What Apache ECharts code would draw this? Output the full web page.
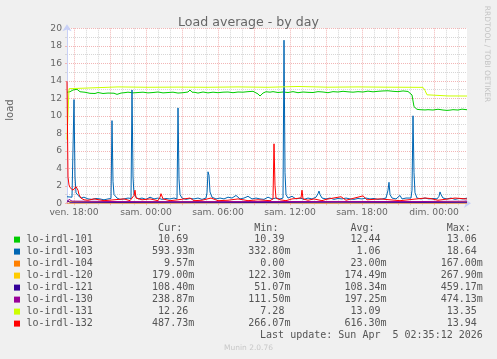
<!DOCTYPE html>
<html><head><meta charset="utf-8">
<script src="https://cdn.jsdelivr.net/npm/echarts@6/dist/echarts.min.js"></script>
<style>html,body{margin:0;padding:0;background:#f0f0f0}#c{width:497px;height:359px}</style>
</head><body><div id="c"></div>
<script>
// ---- labels / legend ----
const titleText = 'Load average - by day';
const yName = 'load';
const seriesNames = ['lo-irdl-101','lo-irdl-103','lo-irdl-104','lo-irdl-120','lo-irdl-121','lo-irdl-130','lo-irdl-131','lo-irdl-132'];
const seriesColors = ['#00cc00','#0066b3','#ff8000','#ffcc00','#330099','#990099','#ccff00','#ff0000'];
const curVals = ['10.69','593.93m','9.57m','179.00m','108.40m','238.87m','12.26','487.73m'];
const minVals = ['10.39','332.80m','0.00','122.30m','51.07m','111.50m','7.28','266.07m'];
const avgVals = ['12.44','1.06','23.00m','174.49m','108.34m','197.25m','13.09','616.30m'];
const maxVals = ['13.06','18.64','167.00m','267.90m','459.17m','474.13m','13.35','13.94'];
const lastUpdate = 'Last update: Sun Apr  5 02:35:12 2026';
const muninVersion = 'Munin 2.0.76';
const sideText = 'RRDTOOL / TOBI OETIKER';
const dayNames = ['ven.','sam.','dim.'];

// ---- axes (time in minutes since Friday 00:00) ----
const xStart = 1045, xEnd = 3045;
const xLabelTicks = [1080,1440,1800,2160,2520,2880];
const xMajorTicks = [1080,1260,1440,1620,1800,1980,2160,2340,2520,2700,2880];
const xMinorTicks = [1140,1200,1320,1380,1500,1560,1680,1740,1860,1920,2040,2100,2220,2280,2400,2460,2580,2640,2760,2820,2940,3000];
const yMin = 0, yMax = 20, yStep = 2;

// ---- series data: [minute, load] ----
const s101 = [[1045,12.69],[1060,12.75],[1075,12.95],[1095,13.03],[1110,12.75],[1135,12.69],[1160,12.57],[1170,12.62],[1185,12.55],[1200,12.66],[1210,12.62],[1225,12.55],[1235,12.5],[1250,12.6],[1260,12.65],[1280,12.58],[1295,12.45],[1305,12.62],[1315,12.6],[1335,12.65],[1350,12.7],[1360,12.72],[1375,12.62],[1385,12.7],[1400,12.66],[1410,12.6],[1425,12.7],[1435,12.65],[1450,12.62],[1460,12.7],[1475,12.66],[1485,12.6],[1500,12.72],[1510,12.68],[1525,12.62],[1535,12.7],[1550,12.66],[1560,12.62],[1575,12.7],[1585,12.65],[1600,12.6],[1610,12.72],[1625,12.64],[1635,12.66],[1650,12.72],[1660,12.95],[1670,12.7],[1685,12.68],[1700,12.6],[1710,12.65],[1725,12.72],[1735,12.7],[1750,12.62],[1760,12.66],[1775,12.7],[1785,12.72],[1800,12.64],[1810,12.6],[1825,12.7],[1835,12.65],[1850,12.72],[1860,12.7],[1875,12.64],[1885,12.68],[1900,12.72],[1910,12.75],[1925,12.7],[1935,12.8],[1950,12.76],[1960,12.87],[1975,12.8],[1985,12.75],[2000,12.5],[2010,12.26],[2025,12.6],[2040,12.75],[2050,12.68],[2060,12.7],[2075,12.76],[2085,12.72],[2100,12.66],[2110,12.68],[2125,12.72],[2135,12.75],[2150,12.66],[2160,12.7],[2175,12.76],[2185,12.72],[2200,12.64],[2210,12.68],[2225,12.72],[2235,12.75],[2250,12.68],[2260,12.72],[2275,12.66],[2285,12.7],[2300,12.76],[2310,12.8],[2325,12.72],[2335,12.7],[2350,12.64],[2360,12.72],[2375,12.76],[2385,12.68],[2400,12.72],[2410,12.75],[2425,12.8],[2435,12.7],[2450,12.74],[2460,12.78],[2475,12.7],[2485,12.72],[2500,12.76],[2510,12.8],[2525,12.72],[2535,12.75],[2550,12.82],[2560,12.78],[2575,12.74],[2585,12.87],[2600,12.8],[2610,12.76],[2625,12.84],[2635,12.8],[2650,12.86],[2660,12.75],[2675,12.8],[2685,12.82],[2700,12.76],[2710,12.78],[2725,12.84],[2735,12.8],[2750,12.78],[2760,12.87],[2770,12.38],[2780,11.04],[2795,10.74],[2810,10.7],[2820,10.76],[2835,10.67],[2850,10.7],[2860,10.72],[2875,10.66],[2885,10.7],[2900,10.75],[2910,10.68],[2925,10.66],[2935,10.47],[2945,10.62],[2960,10.65],[2975,10.7],[2985,10.72],[3000,10.66],[3010,10.84],[3020,10.76],[3030,10.72],[3045,10.69]];
const s103 = [[1045,0.75],[1055,0.9],[1070,0.7],[1075,0.8],[1080,11.85],[1085,3.0],[1090,1.2],[1100,0.9],[1115,0.6],[1130,0.7],[1150,0.5],[1170,0.45],[1190,0.55],[1210,0.5],[1230,0.4],[1250,0.5],[1265,0.55],[1270,9.45],[1275,2.5],[1280,1.0],[1295,0.6],[1310,0.45],[1330,0.5],[1350,0.6],[1365,0.55],[1370,12.95],[1375,3.0],[1380,1.0],[1390,0.8],[1400,0.5],[1420,0.6],[1440,0.45],[1460,0.7],[1480,0.5],[1500,0.6],[1520,0.45],[1540,0.55],[1560,0.5],[1580,0.6],[1595,0.5],[1600,10.9],[1605,2.8],[1610,1.0],[1620,0.6],[1640,0.45],[1660,0.55],[1680,0.5],[1700,0.6],[1720,0.45],[1740,0.6],[1745,1.2],[1750,3.6],[1755,3.2],[1760,1.3],[1770,0.7],[1790,0.5],[1810,0.6],[1830,0.5],[1850,0.7],[1870,0.6],[1890,0.9],[1910,0.5],[1930,0.6],[1950,0.8],[1970,0.5],[1990,0.6],[2010,0.5],[2030,0.45],[2050,0.7],[2070,0.5],[2090,0.6],[2110,0.5],[2125,0.6],[2130,18.64],[2135,3.5],[2140,1.0],[2150,0.6],[2170,0.8],[2190,0.5],[2210,0.6],[2230,0.45],[2250,0.6],[2270,0.5],[2290,0.7],[2300,1.1],[2305,1.4],[2310,1.0],[2320,0.6],[2340,0.5],[2360,0.6],[2380,0.45],[2400,0.55],[2420,0.5],[2440,0.6],[2460,0.5],[2480,0.45],[2500,0.55],[2520,0.5],[2540,0.6],[2560,0.5],[2580,0.55],[2600,0.45],[2620,0.5],[2640,0.6],[2650,1.5],[2655,2.4],[2660,1.0],[2670,0.6],[2690,0.5],[2710,0.9],[2720,0.5],[2740,0.6],[2765,0.6],[2770,1.5],[2775,10.0],[2780,3.5],[2785,1.2],[2795,0.6],[2815,0.5],[2835,0.6],[2855,0.5],[2875,0.55],[2895,0.5],[2905,0.8],[2910,1.3],[2915,1.0],[2925,0.6],[2945,0.5],[2965,0.6],[2985,0.45],[3005,0.55],[3025,0.5],[3045,0.59]];
const s104 = [[1045,0.0],[1200,0.02],[1400,0.0],[1700,0.03],[2000,0.05],[2300,0.0],[2600,0.02],[2900,0.0],[3045,0.01]];
const s120 = [[1045,0.2],[1300,0.15],[1600,0.18],[2000,0.17],[2400,0.16],[2800,0.19],[3045,0.18]];
const s121 = [[1045,0.3],[1060,0.12],[1300,0.1],[1600,0.11],[2000,0.1],[2400,0.12],[2800,0.1],[3045,0.11]];
const s130 = [[1045,0.1],[1055,0.45],[1070,0.25],[1300,0.2],[1600,0.19],[2000,0.2],[2400,0.21],[2800,0.2],[3045,0.24]];
const s131 = [[1045,7.28],[1055,13.1],[1065,13.26],[1300,13.3],[1450,13.26],[1600,13.28],[1750,13.26],[1900,13.3],[2050,13.26],[2200,13.35],[2350,13.27],[2500,13.3],[2650,13.27],[2750,13.26],[2825,13.25],[2835,12.9],[2845,12.4],[2855,12.28],[2950,12.27],[3045,12.26]];
const s132 = [[1045,13.94],[1050,3.0],[1055,2.1],[1060,1.8],[1070,1.7],[1075,1.5],[1080,1.6],[1085,1.4],[1090,1.9],[1095,2.0],[1100,1.5],[1105,1.0],[1115,0.6],[1130,0.4],[1150,0.35],[1180,0.5],[1230,0.3],[1280,0.4],[1330,0.5],[1360,0.3],[1380,0.9],[1385,1.5],[1390,0.6],[1420,0.4],[1460,0.5],[1500,0.3],[1510,0.7],[1515,1.1],[1525,0.5],[1560,0.3],[1600,0.4],[1660,0.6],[1680,0.3],[1720,0.35],[1765,0.6],[1800,0.3],[1850,0.35],[1900,0.5],[1950,0.3],[2000,0.4],[2060,0.3],[2075,0.5],[2080,6.8],[2085,2.0],[2090,0.6],[2110,0.4],[2140,0.3],[2170,0.5],[2215,0.6],[2220,1.5],[2225,0.5],[2250,0.35],[2280,0.5],[2320,0.3],[2340,0.45],[2415,0.75],[2440,0.35],[2525,0.85],[2545,0.4],[2610,0.5],[2710,0.3],[2835,0.6],[2860,0.55],[2900,0.35],[2985,0.6],[3015,0.55],[3045,0.49]];
const seriesData = [s101,s103,s104,s120,s121,s130,s131,s132];

const chart = echarts.init(document.getElementById('c'), null, {renderer:'canvas'});
const FONT = '"DejaVu Sans", sans-serif';
const MONO = '"DejaVu Sans Mono", monospace';
const fmtTime = v => dayNames[Math.floor(v/1440)] + ' ' + String(Math.floor((v%1440)/60)).padStart(2,'0') + ':' + String(v%60).padStart(2,'0');

const graphics = [];
graphics.push({type:'text', x:10, y:110, rotation:Math.PI/2, style:{text:yName, font:'10px '+FONT, fill:'#666', align:'center', verticalAlign:'middle'}});
graphics.push({type:'text', x:487, y:54, rotation:-Math.PI/2, style:{text:sideText, font:'7.5px '+FONT, fill:'#c4c4c4', align:'center', verticalAlign:'middle'}});
const colRight = [188.2, 284.4, 380.6, 476.8];
const headers = ['Cur:','Min:','Avg:','Max:'];
headers.forEach((h,i)=>graphics.push({type:'text', x:colRight[i]-6, y:228, style:{text:h, font:'10px '+MONO, fill:'#555', align:'right', verticalAlign:'middle'}}));
const cols = [curVals,minVals,avgVals,maxVals];
seriesNames.forEach((n,r)=>{
  const y = 239.6 + 12*r;
  graphics.push({type:'rect', shape:{x:14, y:y-3, width:6, height:6}, style:{fill:seriesColors[r]}});
  graphics.push({type:'text', x:26.5, y:y, style:{text:n, font:'10px '+MONO, fill:'#555', align:'left', verticalAlign:'middle'}});
  cols.forEach((arr,c)=>{
    const s = arr[r]; const unit = s.endsWith('m') ? 'm' : ''; const num = unit ? s.slice(0,-1) : s;
    graphics.push({type:'text', x:colRight[c], y:y, style:{text:num, font:'10px '+MONO, fill:'#555', align:'right', verticalAlign:'middle'}});
    if (unit) graphics.push({type:'text', x:colRight[c], y:y, style:{text:unit, font:'10px '+MONO, fill:'#555', align:'left', verticalAlign:'middle'}});
  });
});
graphics.push({type:'text', x:482.8, y:335.5, style:{text:lastUpdate, font:'10px '+MONO, fill:'#555', align:'right', verticalAlign:'middle'}});
graphics.push({type:'text', x:248.5, y:348, style:{text:muninVersion, font:'7.5px '+FONT, fill:'#c8c8c8', align:'center', verticalAlign:'middle'}});

const MINOR = '#d6d6d6', MAJOR = '#f2b6b6', AXIS = '#c8d0f6';
chart.setOption({
  animation:false,
  backgroundColor:'#f0f0f0',
  title:{text:titleText, left:'center', top:11, textStyle:{fontFamily:FONT, fontSize:12.6, fontWeight:'normal', color:'#666'}},
  grid:{left:67, top:28.3, width:400, height:175, show:true, backgroundColor:'#ffffff', borderWidth:0},
  xAxis:[
    {type:'value', min:xStart, max:xEnd, position:'bottom',
     axisLine:{show:false},
     axisTick:{show:true, customValues:xMinorTicks, length:2, lineStyle:{color:MINOR}},
     splitLine:{show:true, lineStyle:{color:MINOR, type:[1,1]}},
     axisLabel:{show:false}},
    {type:'value', min:xStart, max:xEnd, position:'bottom',
     axisLine:{show:true, onZero:false, lineStyle:{color:AXIS, width:1}, symbol:['none','arrow'], symbolSize:[7,7], symbolOffset:[0,4]},
     axisTick:{show:true, customValues:xMajorTicks, length:2, lineStyle:{color:MAJOR}},
     splitLine:{show:true, lineStyle:{color:MAJOR, type:[1,1]}},
     axisLabel:{customValues:xLabelTicks, formatter:fmtTime, fontFamily:FONT, fontSize:9.2, color:'#666', margin:5}}
  ],
  yAxis:{type:'value', min:yMin, max:yMax, interval:yStep,
    axisLine:{show:true, lineStyle:{color:AXIS, width:1}, symbol:['none','arrow'], symbolSize:[7,7], symbolOffset:[0,4]},
    axisTick:{show:true, length:2, lineStyle:{color:MAJOR}},
    minorTick:{show:true, splitNumber:2, length:2, lineStyle:{color:MINOR}},
    splitLine:{show:true, lineStyle:{color:MAJOR, type:[1,1]}},
    minorSplitLine:{show:true, lineStyle:{color:MINOR, type:[1,1]}},
    axisLabel:{fontFamily:FONT, fontSize:9.2, color:'#666', margin:5}},
  series: seriesData.map((d,i)=>({name:seriesNames[i], type:'line', xAxisIndex:1, data:d, showSymbol:false, symbol:'none', silent:true,
    lineStyle:{width:1, color:seriesColors[i]}, itemStyle:{color:seriesColors[i]}})),
  graphic: graphics
});
</script></body></html>
